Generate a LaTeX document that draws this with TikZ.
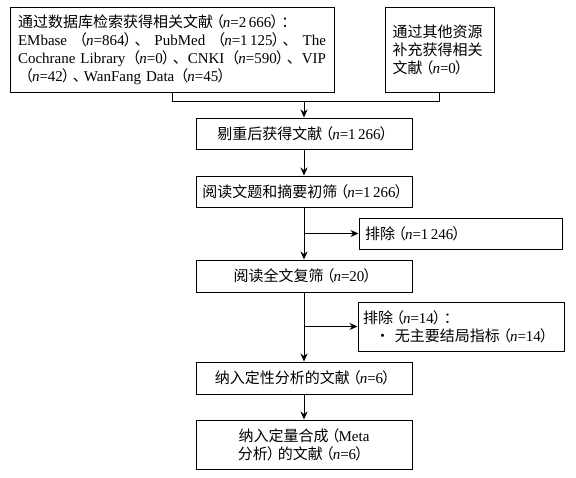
\documentclass[tikz,border=0pt]{standalone}
\usepackage{fontspec}
\setmainfont{Liberation Serif}
\newfontfamily\cjk{Noto Sans CJK SC}
\newcommand\zh[1]{{\cjk #1}}
\newcommand\nn{\textit{n}}
\newcommand\lp{\hspace{-4pt}\zh{（}\hspace{-1pt}}
\newcommand\rp{\hspace{-1pt}\zh{）}\hspace{-4pt}}
\newcommand\dn{\zh{、}\hspace{-4pt}}
\newcommand\gp{\hspace{0pt plus 1fil}}
\usetikzlibrary{arrows.meta}
\begin{document}
\begin{tikzpicture}[x=1pt,y=-1pt,
  font=\fontsize{15}{18}\selectfont,
  box/.style={draw, line width=1pt, inner sep=0pt, align=center},
  mainbox/.style={box, minimum width=216pt},
  conn/.style={line width=0.9pt},
  arr/.style={conn, -{Stealth[length=8pt,width=7pt]}}]
\useasboundingbox (0,0) rectangle (576,477);
\fill[white] (0,0) rectangle (576,477);

\node[box, minimum width=324pt, minimum height=85pt, text width=308pt, align=left] (db) at (172,49.5)
 {\mbox{\zh{通过数据库检索获得相关文献}\lp\nn=2\,666\rp\zh{：}}\\
  \makebox[308pt][s]{EMbase\gp\lp\nn=864\rp\dn\gp PubMed\gp\lp\nn=1\,125\rp\dn\gp The}\\
  \makebox[308pt][s]{Cochrane Library\gp\lp\nn=0\rp\dn\gp CNKI\gp\lp\nn=590\rp\dn\gp VIP}\\
  \mbox{\hspace{4pt}\lp\nn=42\rp\dn WanFang Data\hspace{3pt}\lp\nn=45\rp}};

\node[box, minimum width=109pt, minimum height=85pt, text width=94pt, align=left] (other) at (439.5,49.5)
 {\zh{通过其他资源}\\\zh{补充获得相关}\\\mbox{\zh{文献}\lp\nn=0\rp}};

\node[mainbox, minimum height=31pt] (dedup) at (304,133.5) {\zh{剔重后获得文献}\lp\nn=1\,266\rp};
\node[mainbox, minimum height=31pt] (title) at (304,191.5) {\zh{阅读文题和摘要初筛}\lp\nn=1\,266\rp};
\node[mainbox, minimum height=32pt] (full) at (304,276) {\zh{阅读全文复筛}\lp\nn=20\rp};
\node[mainbox, minimum height=32pt] (qual) at (304,378) {\zh{纳入定性分析的文献}\lp\nn=6\rp};
\node[mainbox, minimum height=49pt] (quant) at (304,444.5) {\zh{纳入定量合成}\lp Meta\\\zh{分析}\rp\zh{的文献}\lp\nn=6\rp};

\node[box, minimum width=203pt, minimum height=31pt, text width=191pt, align=left] (ex1) at (460.5,233.5) {\zh{排除}\lp\nn=1\,246\rp};
\node[box, minimum width=206pt, minimum height=49pt, text width=196pt, align=left] (ex2) at (461,326.5)
 {\zh{排除}\lp\nn=14\rp\zh{：}\\\hspace*{12pt}\zh{·\ 无主要结局指标}\lp\nn=14\rp};

\coordinate (j1) at (db.south |- 0,101);
\coordinate (j2) at (other.south |- 0,101);
\coordinate (jm) at (304,101);
\coordinate (b1) at (title.south |- ex1.west);
\coordinate (b2) at (full.south |- ex2.west);
\draw[conn] (db.south) -- (j1) -- (j2) -- (other.south);
\draw[arr] (jm) -- (dedup.north);
\draw[arr] (dedup) -- (title);
\draw[arr] (title) -- (full);
\draw[arr] (full) -- (qual);
\draw[arr] (qual) -- (quant);
\draw[arr] (b1) -- (ex1.west);
\draw[arr] (b2) -- (ex2.west);
\end{tikzpicture}
\end{document}
